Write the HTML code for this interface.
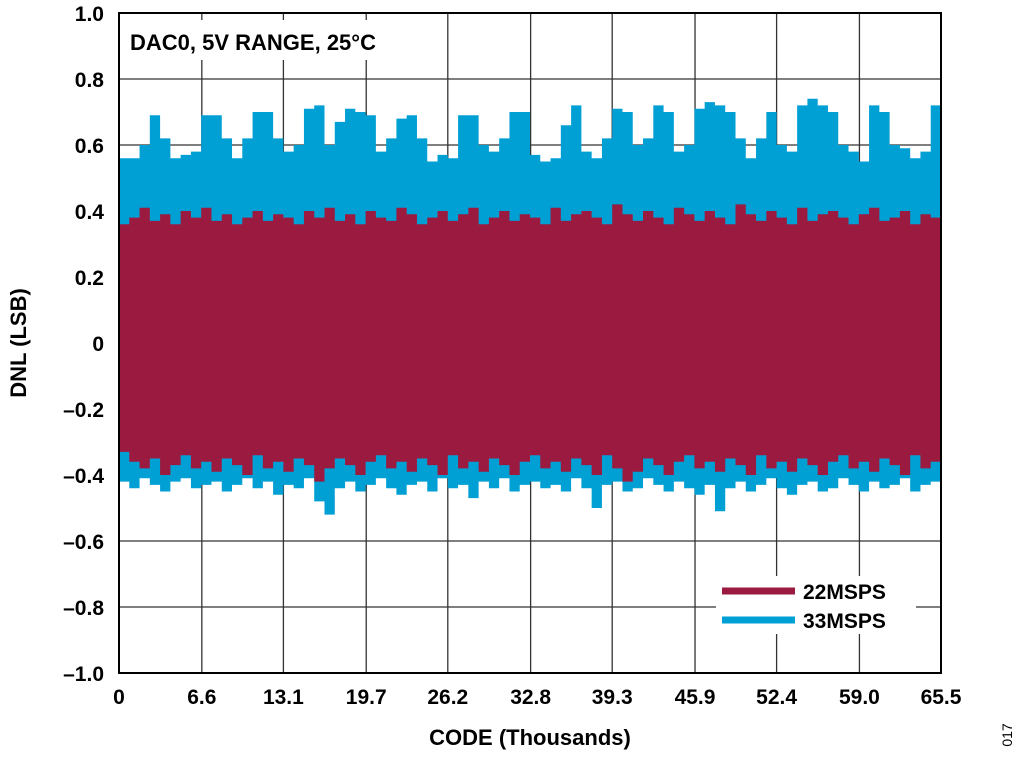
<!DOCTYPE html>
<html><head><meta charset="utf-8"><style>
body{margin:0;background:#fff;width:1024px;height:759px;overflow:hidden;font-family:"Liberation Sans",Arial,sans-serif}
svg text{font-family:"Liberation Sans",Arial,sans-serif;font-weight:bold}
</style></head><body>
<svg id="chart" width="1024" height="759">
<g id="grid"></g>
<g id="series"></g>
<rect x="125" y="20" width="318" height="40" fill="#fff"/>
<text x="130" y="50" font-size="22">DAC0, 5V RANGE, 25°C</text>
<rect x="716" y="576" width="200" height="58" fill="#fff"/>
<g><line x1="722" y1="591" x2="795" y2="591" stroke="#9b1b40" stroke-width="7"/><text x="803" y="599" font-size="21">22MSPS</text></g>
<g><line x1="722" y1="620" x2="795" y2="620" stroke="#009fd4" stroke-width="7"/><text x="803" y="628" font-size="21">33MSPS</text></g>
<rect x="119" y="13" width="822" height="660" fill="none" stroke="#000" stroke-width="2"/>
<g id="axes"></g>
<text x="530" y="745" font-size="22" text-anchor="middle">CODE (Thousands)</text>
<text transform="translate(26,343) rotate(-90)" font-size="22" text-anchor="middle">DNL (LSB)</text>
<text transform="translate(1012,735) rotate(-90)" font-size="14" font-weight="normal" style="font-weight:normal" text-anchor="middle">017</text>
</svg>
<script>
const xTicks=[0,6.6,13.1,19.7,26.2,32.8,39.3,45.9,52.4,59.0,65.5];
const xTickLabels=["0","6.6","13.1","19.7","26.2","32.8","39.3","45.9","52.4","59.0","65.5"];
const yTicks=[1,0.8,0.6,0.4,0.2,0,-0.2,-0.4,-0.6,-0.8,-1];
const yTickLabels=["1.0","0.8","0.6","0.4","0.2","0","–0.2","–0.4","–0.6","–0.8","–1.0"];
const blueMax=[0.56,0.56,0.60,0.69,0.62,0.56,0.57,0.58,0.69,0.69,0.62,0.56,0.62,0.70,0.70,0.62,0.58,0.60,0.71,0.72,0.60,0.67,0.71,0.70,0.69,0.58,0.62,0.68,0.69,0.62,0.55,0.57,0.56,0.69,0.69,0.60,0.58,0.62,0.70,0.70,0.57,0.55,0.56,0.66,0.72,0.58,0.56,0.62,0.71,0.70,0.60,0.62,0.72,0.70,0.58,0.60,0.71,0.73,0.72,0.70,0.62,0.56,0.62,0.70,0.60,0.58,0.72,0.74,0.72,0.70,0.60,0.58,0.55,0.72,0.70,0.60,0.59,0.56,0.58,0.72];
const blueMin=[-0.42,-0.44,-0.41,-0.43,-0.45,-0.42,-0.41,-0.44,-0.43,-0.42,-0.45,-0.43,-0.41,-0.44,-0.42,-0.46,-0.43,-0.44,-0.41,-0.48,-0.52,-0.44,-0.42,-0.45,-0.43,-0.41,-0.44,-0.46,-0.43,-0.42,-0.45,-0.41,-0.44,-0.43,-0.47,-0.42,-0.44,-0.41,-0.45,-0.43,-0.42,-0.44,-0.43,-0.45,-0.41,-0.44,-0.50,-0.43,-0.42,-0.45,-0.44,-0.41,-0.43,-0.45,-0.42,-0.44,-0.46,-0.43,-0.51,-0.44,-0.42,-0.45,-0.43,-0.41,-0.44,-0.46,-0.43,-0.42,-0.45,-0.44,-0.41,-0.43,-0.45,-0.42,-0.44,-0.43,-0.41,-0.45,-0.43,-0.42];
const redMax=[0.36,0.38,0.41,0.37,0.39,0.36,0.40,0.38,0.41,0.37,0.39,0.36,0.38,0.40,0.37,0.39,0.38,0.36,0.40,0.38,0.41,0.37,0.39,0.36,0.40,0.38,0.37,0.41,0.39,0.36,0.38,0.40,0.37,0.39,0.41,0.36,0.38,0.40,0.37,0.39,0.38,0.36,0.41,0.37,0.39,0.40,0.38,0.36,0.42,0.39,0.37,0.40,0.38,0.36,0.41,0.39,0.37,0.40,0.38,0.36,0.42,0.39,0.37,0.40,0.38,0.36,0.41,0.37,0.39,0.40,0.38,0.36,0.39,0.41,0.37,0.38,0.40,0.36,0.39,0.38];
const redMin=[-0.33,-0.36,-0.38,-0.35,-0.40,-0.37,-0.34,-0.38,-0.36,-0.39,-0.35,-0.37,-0.40,-0.34,-0.38,-0.36,-0.39,-0.35,-0.37,-0.42,-0.38,-0.35,-0.37,-0.40,-0.36,-0.34,-0.38,-0.36,-0.39,-0.35,-0.37,-0.40,-0.34,-0.38,-0.36,-0.39,-0.35,-0.37,-0.40,-0.36,-0.34,-0.38,-0.36,-0.39,-0.35,-0.37,-0.40,-0.34,-0.38,-0.42,-0.39,-0.35,-0.37,-0.40,-0.36,-0.34,-0.38,-0.36,-0.39,-0.35,-0.37,-0.40,-0.34,-0.38,-0.36,-0.39,-0.35,-0.37,-0.40,-0.36,-0.34,-0.38,-0.36,-0.39,-0.35,-0.37,-0.40,-0.34,-0.38,-0.36];
const X0=119,X1=941,Y0=13,Y1=673,XMAX=65.5;
const sx=v=>X0+(v/XMAX)*(X1-X0);
const sy=v=>Y0+(1-v)/2*(Y1-Y0);
const NS='http://www.w3.org/2000/svg';
const grid=document.getElementById('grid'),axes=document.getElementById('axes'),ser=document.getElementById('series');
function mk(tag,attrs,parent){const e=document.createElementNS(NS,tag);for(const k in attrs)e.setAttribute(k,attrs[k]);parent.appendChild(e);return e;}
xTicks.forEach((t,i)=>{
 const g=mk('line',{x1:sx(t),x2:sx(t),y1:Y0,y2:Y1,stroke:'#333','stroke-width':1.3},grid);
 
 
 const tx=mk('text',{x:sx(t),y:704,'font-size':21,'text-anchor':'middle'},axes);tx.textContent=xTickLabels[i];
 
 
});
yTicks.forEach((t,i)=>{
 const g=mk('line',{x1:X0,x2:X1,y1:sy(t),y2:sy(t),stroke:'#333','stroke-width':1.3},grid);
 
 
 const tx=mk('text',{x:104,y:sy(t)+8,'font-size':21,'text-anchor':'end'},axes);tx.textContent=yTickLabels[i];
 
 
});
function band(maxA,minA,color,name){
 const n=maxA.length,w=XMAX/n;let top=[],bot=[];
 for(let i=0;i<n;i++){top.push([sx(i*w),sy(maxA[i])],[sx((i+1)*w),sy(maxA[i])]);}
 for(let i=n-1;i>=0;i--){bot.push([sx((i+1)*w),sy(minA[i])],[sx(i*w),sy(minA[i])]);}
 const p=mk('polygon',{points:top.concat(bot).map(q=>q.join(',')).join(' '),fill:color},ser);
 
 
}
band(blueMax,blueMin,'#009fd4','series-33msps');
band(redMax,redMin,'#9b1b40','series-22msps');
</script>
</body></html>
